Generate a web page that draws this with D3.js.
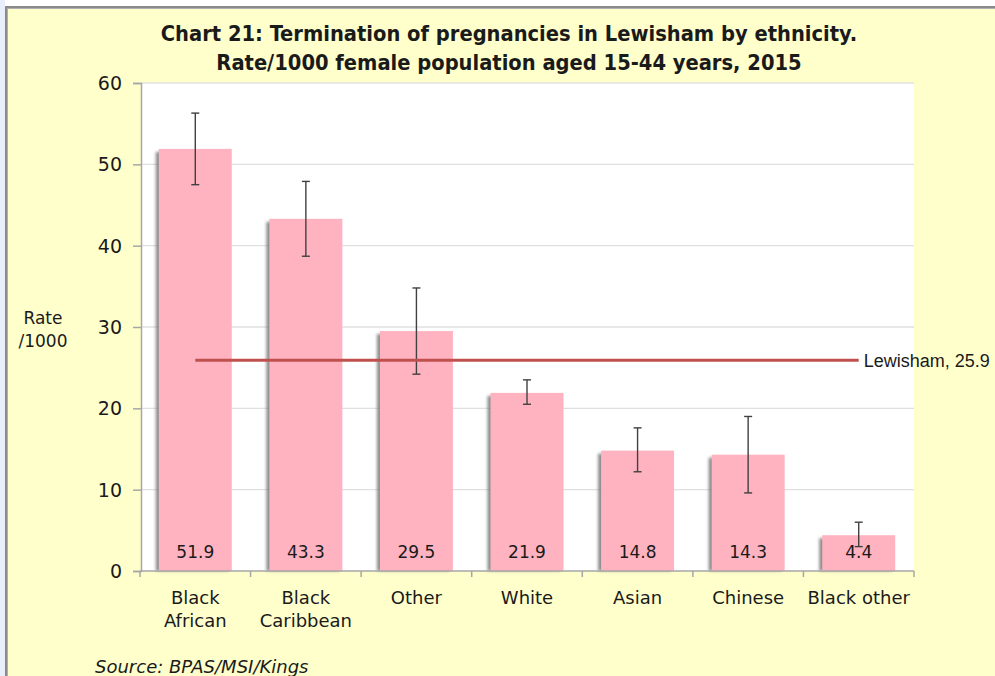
<!DOCTYPE html>
<html><head><meta charset="utf-8">
<script src="https://cdn.jsdelivr.net/npm/d3@7"></script>
<style>
html,body{margin:0;padding:0;background:#ffffff;overflow:hidden;}
svg{display:block;font-family:"DejaVu Sans",Verdana,sans-serif;}
</style></head>
<body>
<svg id="c" width="995" height="676"></svg>
<script>
const categories = ["Black African","Black Caribbean","Other","White","Asian","Chinese","Black other"];
const categoryLines = [["Black","African"],["Black","Caribbean"],["Other"],["White"],["Asian"],["Chinese"],["Black other"]];
const rates = [51.9,43.3,29.5,21.9,14.8,14.3,4.4];
const lowerCI = [47.5,38.7,24.2,20.5,12.2,9.6,3.0];
const upperCI = [56.3,47.9,34.8,23.5,17.6,19.0,6.0];
const lewishamRate = 25.9;
const lewishamLabel = "Lewisham, 25.9";
const yTicks = [0,10,20,30,40,50,60];
const titleLines = ["Chart 21: Termination of pregnancies in Lewisham by ethnicity.","Rate/1000 female population aged 15-44 years, 2015"];
const sourceText = "Source: BPAS/MSI/Kings";

const svg = d3.select("#c");
// frame
svg.append("rect").attr("x",0).attr("y",0).attr("width",995).attr("height",676).attr("fill","#ffffff");
svg.append("rect").attr("x",0).attr("y",0).attr("width",5).attr("height",676).attr("fill","#e8eefa");
svg.append("rect").attr("x",5).attr("y",6).attr("width",990).attr("height",670).attr("fill","#8a8a8a");
svg.append("rect").attr("x",7).attr("y",8).attr("width",988).attr("height",668).attr("fill","#b0b0b0");
svg.append("rect").attr("x",8).attr("y",9).attr("width",987).attr("height",667).attr("fill","#ffffcc");

const defs = svg.append("defs");
const f = defs.append("filter").attr("id","sh").attr("x","-20%").attr("y","-20%").attr("width","140%").attr("height","140%");
f.append("feGaussianBlur").attr("stdDeviation",1.5);

const L=141, R=914, T=83, B=571;
const x = d3.scaleBand().domain(categories).range([L-1,R]).paddingInner(0.34).paddingOuter(0.17);
const y = d3.scaleLinear().domain([0,60]).range([B,T]);

// plot area
svg.append("rect").attr("x",L).attr("y",T).attr("width",R-L).attr("height",B-T).attr("fill","#ffffff");
// grid
svg.append("g").selectAll("line").data(yTicks.filter(d=>d>0)).join("line")
  .attr("x1",L).attr("x2",R).attr("y1",d=>y(d)).attr("y2",d=>y(d))
  .attr("stroke","#e0e0e0").attr("stroke-width",1.3);

// bar shadows
svg.append("g").selectAll("rect").data(rates).join("rect")
  .attr("x",(d,i)=>x(categories[i])-3).attr("y",d=>y(d)+3)
  .attr("width",x.bandwidth()).attr("height",d=>B-y(d)-3)
  .attr("fill","#707070").attr("opacity",0.8).attr("filter","url(#sh)");
// bars
svg.append("g").selectAll("rect").data(rates).join("rect")
  .attr("x",(d,i)=>x(categories[i])).attr("y",d=>y(d))
  .attr("width",x.bandwidth()).attr("height",d=>B-y(d))
  .attr("fill","#ffb3c0");

// y axis
const ya = svg.append("g").attr("transform",`translate(${L},0)`)
  .call(d3.axisLeft(y).tickValues(yTicks).tickSize(8).tickPadding(11).tickFormat(d3.format("d")));
ya.select(".domain").attr("stroke","#a6a6a6").attr("stroke-width",1.5);
ya.selectAll(".tick line").attr("stroke","#a6a6a6").attr("stroke-width",1.5);
ya.selectAll(".tick text").attr("font-size",19).attr("fill","#1a1a1a").attr("font-family","DejaVu Sans, sans-serif").attr("dy","0.35em");

// x axis
const xa = svg.append("g").attr("transform",`translate(0,${B})`);
xa.append("line").attr("x1",L-1).attr("x2",R).attr("y1",0).attr("y2",0).attr("stroke","#a6a6a6").attr("stroke-width",1.5);
const bounds = d3.range(categories.length+1).map(i=> (L-1) + i*(R-L+1)/categories.length);
xa.selectAll("line.t").data(bounds).join("line").attr("class","t")
  .attr("x1",d=>d).attr("x2",d=>d).attr("y1",0).attr("y2",6).attr("stroke","#a6a6a6").attr("stroke-width",1.5);
const cl = xa.selectAll("text").data(categoryLines).join("text")
  .attr("x",(d,i)=>x(categories[i])+x.bandwidth()/2).attr("y",33)
  .attr("text-anchor","middle").attr("font-size",18).attr("fill","#1a1a1a");
cl.selectAll("tspan").data(d=>d).join("tspan")
  .attr("x",function(){return this.parentNode.getAttribute("x");})
  .attr("dy",(d,i)=>i===0?0:23).text(d=>d);

// value labels
svg.append("g").selectAll("text").data(rates).join("text")
  .attr("x",(d,i)=>x(categories[i])+x.bandwidth()/2).attr("y",B-13)
  .attr("text-anchor","middle").attr("font-size",17).attr("fill","#1a1a1a")
  .text(d=>d3.format(".1f")(d));

// error bars
const eb = svg.append("g").attr("stroke","#404040").attr("stroke-width",1.4);
categories.forEach((c,i)=>{
  const cx = x(c)+x.bandwidth()/2;
  eb.append("line").attr("x1",cx).attr("x2",cx).attr("y1",y(upperCI[i])).attr("y2",y(lowerCI[i]));
  eb.append("line").attr("x1",cx-4).attr("x2",cx+4).attr("y1",y(upperCI[i])).attr("y2",y(upperCI[i]));
  eb.append("line").attr("x1",cx-4).attr("x2",cx+4).attr("y1",y(lowerCI[i])).attr("y2",y(lowerCI[i]));
});

// Lewisham line
const x0 = x(categories[0])+x.bandwidth()/2, x1 = x(categories[categories.length-1])+x.bandwidth()/2;
svg.append("line").attr("x1",x0).attr("x2",x1).attr("y1",y(lewishamRate)).attr("y2",y(lewishamRate))
  .attr("stroke","#c0504d").attr("stroke-width",3);
svg.append("text").attr("x",x1+5).attr("y",y(lewishamRate)).attr("dy","0.35em")
  .attr("fill","#1a1a1a").attr("font-family","Liberation Sans, Arial, sans-serif")
  .attr("font-size",18).text(lewishamLabel);

// y title
svg.append("text").attr("x",43).attr("y",324).attr("text-anchor","middle").attr("font-size",17).attr("fill","#1a1a1a").text("Rate");
svg.append("text").attr("x",43).attr("y",347).attr("text-anchor","middle").attr("font-size",17).attr("fill","#1a1a1a").text("/1000");

// title
svg.append("g").selectAll("text").data(titleLines).join("text")
  .attr("x",509).attr("y",(d,i)=>41+i*29).attr("text-anchor","middle")
  .attr("font-size",21.7).attr("font-weight","bold").attr("fill","#1a1a1a")
  .attr("font-family","DejaVu Sans Condensed, DejaVu Sans, sans-serif")
  .attr("font-stretch","condensed")
  .text(d=>d);

// source
svg.append("text").attr("x",95).attr("y",673).attr("font-size",18).attr("font-style","italic").attr("fill","#1a1a1a").text(sourceText);
</script>
</body></html>
